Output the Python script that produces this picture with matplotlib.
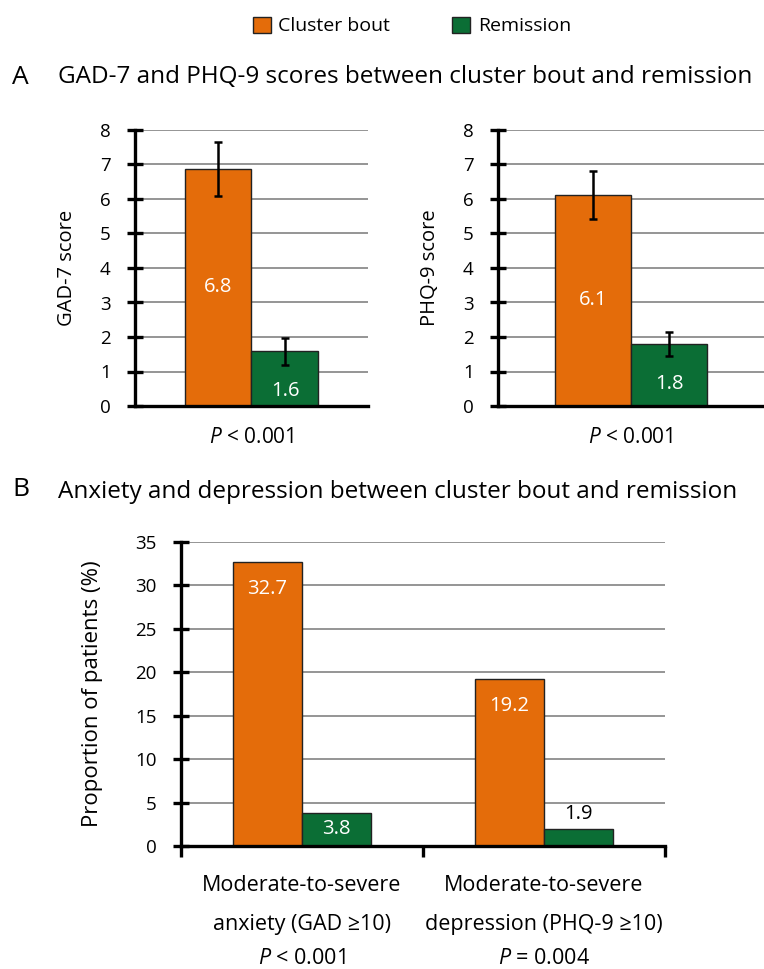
import numpy as np
import matplotlib.pyplot as plt
from matplotlib.patches import Patch

plt.rcParams['font.family'] = ['Open Sans', 'DejaVu Sans']
plt.rcParams['mathtext.fontset'] = 'custom'
plt.rcParams['mathtext.rm'] = 'Open Sans'
plt.rcParams['mathtext.it'] = 'Open Sans:italic'

# data
series = ['Cluster bout', 'Remission']
colors = ['#E46C0A', '#0B6E35']

gad_mean = [6.87, 1.59]
gad_err = [0.78, 0.39]
gad_labels = ['6.8', '1.6']

phq_mean = [6.12, 1.80]
phq_err = [0.70, 0.34]
phq_labels = ['6.1', '1.8']

b_line1 = ['Moderate-to-severe', 'Moderate-to-severe']
b_line2 = ['anxiety (GAD \u226510)', 'depression (PHQ-9 \u226510)']
b_pvalues = ['$\\mathit{P}$ < 0.001', '$\\mathit{P}$ = 0.004']
b_cluster = [32.7, 19.2]
b_remission = [3.8, 1.9]

W, H = 764, 969
fig = plt.figure(figsize=(W / 100, H / 100), dpi=100)


def px_axes(x0, y0, x1, y1):
    """Add axes from pixel box (top-left origin)."""
    return fig.add_axes([x0 / W, 1 - y1 / H, (x1 - x0) / W, (y1 - y0) / H])


def style_axes(ax, ymax, step):
    for s in ['top', 'right']:
        ax.spines[s].set_visible(False)
    for s in ['left', 'bottom']:
        ax.spines[s].set_linewidth(2.4)
        ax.spines[s].set_color('black')
    ax.set_ylim(0, ymax)
    ax.set_yticks(np.arange(0, ymax + 0.1, step))
    ax.yaxis.grid(True, color='#8c8c8c', linewidth=1.3)
    ax.set_axisbelow(True)
    ax.tick_params(axis='y', direction='inout', length=11, width=2.4, labelsize=13.5, pad=12)


def score_panel(ax, means, errs, labels, ylabel, width_px, width=0.575):
    xs = [-width / 2, width / 2]
    ax.bar(xs, means, width=width, color=colors, edgecolor='#222222', linewidth=1.0,
           yerr=errs, error_kw=dict(ecolor='black', elinewidth=1.8, capsize=3, capthick=1.8))
    style_axes(ax, 8, 1)
    ax.set_xlim(-1, 1)
    ax.set_xticks([])
    ax.set_ylabel(ylabel, fontsize=14.5)
    ax.yaxis.set_label_coords(-58 / width_px, 0.5)
    ax.text(xs[0], means[0] / 2, labels[0], color='white', ha='center', va='center', fontsize=14.5)
    ax.text(xs[1], means[1] - 1.15, labels[1], color='white', ha='center', va='center', fontsize=14.5)
    ax.text(0, -0.9, '$\\mathit{P}$ < 0.001', ha='center', va='center', fontsize=15)


# legend on top
handles = [Patch(facecolor=c, edgecolor='#222222', label=s) for c, s in zip(colors, series)]
fig.legend(handles=handles, loc='center', bbox_to_anchor=(412 / W, 1 - 26 / H), ncol=2,
           frameon=False, fontsize=14, handlelength=0.9, handleheight=0.9, columnspacing=3.2,
           handletextpad=0.4)

# panel A
fig.text(12 / W, 1 - 77 / H, 'A', fontsize=19, va='center')
fig.text(58 / W, 1 - 77 / H, 'GAD-7 and PHQ-9 scores between cluster bout and remission',
         fontsize=17.5, va='center')
ax1 = px_axes(135, 130, 368, 406)
score_panel(ax1, gad_mean, gad_err, gad_labels, 'GAD-7 score', 233)
ax2 = px_axes(498, 130, 764, 406)
score_panel(ax2, phq_mean, phq_err, phq_labels, 'PHQ-9 score', 266)

# panel B
fig.text(12 / W, 1 - 489 / H, 'B', fontsize=19, va='center')
fig.text(58 / W, 1 - 492 / H, 'Anxiety and depression between cluster bout and remission',
         fontsize=17.5, va='center')
ax3 = px_axes(181, 542, 665, 846)
bw = 0.285
x = np.arange(len(b_line1))
ax3.bar(x - bw / 2, b_cluster, width=bw, color=colors[0], edgecolor='#222222', linewidth=1.0)
ax3.bar(x + bw / 2, b_remission, width=bw, color=colors[1], edgecolor='#222222', linewidth=1.0)
style_axes(ax3, 35, 5)
ax3.set_xlim(-0.5, 1.5)
ax3.set_xticks([-0.5, 0.5, 1.5])
ax3.set_xticklabels([])
ax3.tick_params(axis='x', direction='out', length=8, width=2.4)
ax3.set_ylabel('Proportion of patients (%)', fontsize=16)
ax3.yaxis.set_label_coords(-78 / 484, 0.5)
for i in range(len(x)):
    ax3.text(x[i] - bw / 2, b_cluster[i] - 3.1, f'{b_cluster[i]:.1f}', color='white',
             ha='center', va='center', fontsize=14.5)
    ax3.text(x[i], -4.5, b_line1[i], ha='center', va='center', fontsize=15.5)
    ax3.text(x[i], -9.0, b_line2[i], ha='center', va='center', fontsize=15.5)
    ax3.text(x[i], -12.9, b_pvalues[i], ha='center', va='center', fontsize=15.5)
ax3.text(x[0] + bw / 2, b_remission[0] / 2 + 0.1, f'{b_remission[0]:.1f}', color='white',
         ha='center', va='center', fontsize=14.5)
ax3.text(x[1] + bw / 2, b_remission[1] + 0.6, f'{b_remission[1]:.1f}', color='black',
         ha='center', va='bottom', fontsize=14.5)

fig.savefig('out.png', dpi=100)
